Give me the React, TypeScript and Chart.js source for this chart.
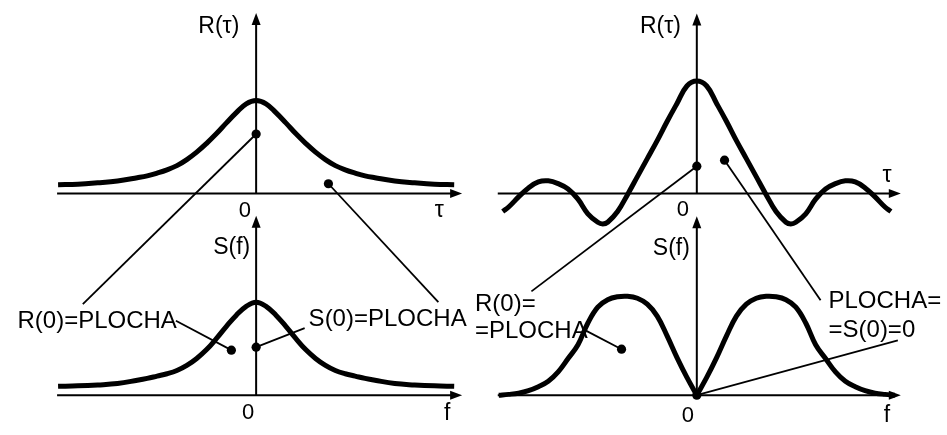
import React, { useEffect, useRef } from 'react';
import { Chart, registerables } from 'chart.js';

Chart.register(...registerables);

const W = 947;
const H = 435;

// ---- data (x in 10-px units, y normalised to peak = 1) ----
const tauLeft = [-20, -18, -16, -14, -12, -11, -10, -9, -8, -7, -6, -5, -4, -3, -2, -1, 0, 1, 2, 3, 4, 5, 6, 7, 8, 9, 10, 11, 12, 14, 16, 18, 20];
const rLeft = [0.095, 0.1, 0.115, 0.135, 0.17, 0.19, 0.22, 0.255, 0.3, 0.365, 0.445, 0.54, 0.645, 0.76, 0.87, 0.965, 1, 0.965, 0.87, 0.76, 0.645, 0.54, 0.445, 0.365, 0.3, 0.255, 0.22, 0.19, 0.17, 0.135, 0.115, 0.1, 0.095];

const freqLeft = [-20, -18, -16, -14, -12, -11, -10, -9, -8, -7, -6, -5, -4, -3, -2, -1, 0, 1, 2, 3, 4, 5, 6, 7, 8, 9, 10, 11, 12, 14, 16, 18, 20];
const sLeft = [0.095, 0.1, 0.11, 0.125, 0.16, 0.18, 0.205, 0.23, 0.265, 0.32, 0.395, 0.49, 0.61, 0.74, 0.86, 0.955, 1, 0.955, 0.86, 0.74, 0.61, 0.49, 0.395, 0.32, 0.265, 0.23, 0.205, 0.18, 0.16, 0.125, 0.11, 0.1, 0.095];

const tauRight = [-19.6, -19, -18, -17, -16, -15, -14, -13, -12, -11, -10, -9.5, -9, -8, -7, -6, -5, -4, -3, -2, -1, 0, 1, 2, 3, 4, 5, 6, 7, 8, 9, 9.5, 10, 11, 12, 13, 14, 15, 16, 17, 18, 19, 19.6];
const rRight = [-0.16, -0.12, -0.03, 0.05, 0.104, 0.113, 0.088, 0.04, -0.05, -0.18, -0.255, -0.27, -0.255, -0.16, -0.01, 0.15, 0.31, 0.47, 0.64, 0.8, 0.955, 1, 0.955, 0.8, 0.64, 0.47, 0.31, 0.15, -0.01, -0.16, -0.255, -0.27, -0.255, -0.18, -0.05, 0.04, 0.088, 0.113, 0.104, 0.05, -0.03, -0.12, -0.16];

const freqRight = [-20, -19, -18, -17, -16, -15, -14, -13, -12, -11, -10, -9, -8, -7, -6, -5, -4, -3, -2, -1, 0, 1, 2, 3, 4, 5, 6, 7, 8, 9, 10, 11, 12, 13, 14, 15, 16, 17, 18, 19, 20];
const sRight = [0, 0.008, 0.02, 0.045, 0.085, 0.14, 0.235, 0.37, 0.51, 0.73, 0.89, 0.965, 0.995, 1, 0.98, 0.92, 0.8, 0.6, 0.38, 0.18, 0, 0.18, 0.38, 0.6, 0.8, 0.92, 0.98, 1, 0.995, 0.965, 0.89, 0.73, 0.51, 0.37, 0.235, 0.14, 0.085, 0.045, 0.02, 0.008, 0];

// annotation dots [x, y] in each panel's units
const dotsTL = [[0, 0.64], [7.3, 0.105]];
const dotsBL = [[-2.5, 0.484], [0, 0.516]];
const dotsTR = [[0, 0.243], [2.8, 0.296]];
const dotsBR = [[-7.6, 0.465], [0, 0]];

// leader lines: [panel, x, y] -> [panel, x, y]
const leaders = [
  [['TL', 0, 0.64], ['BL', -17.5, 0.98]],
  [['TL', 7.3, 0.105], ['BL', 18.4, 1.0]],
  [['BL', -8.1, 0.8], ['BL', -2.5, 0.484]],
  [['BL', 0, 0.516], ['BL', 4.9, 0.72]],
  [['TR', 0, 0.243], ['BR', -16.7, 1.05]],
  [['TR', 2.8, 0.296], ['BR', 12.5, 0.96]],
  [['BR', -11.2, 0.653], ['BR', -7.6, 0.465]],
  [['BR', 0, 0], ['BR', 20.3, 0.554]],
];

// text labels: [panel, x, y, text, align, size]
const labels = [
  ['TL', -1.7, 1.79, 'R(τ)', 'right', 23],
  ['TL', -1.15, -0.185, '0', 'center', 22],
  ['TL', 18.5, -0.18, 'τ', 'center', 23],
  ['BL', -0.6, 1.59, 'S(f)', 'right', 23],
  ['BL', -0.8, -0.19, '0', 'center', 22],
  ['BL', 19.3, -0.2, 'f', 'center', 23],
  ['BL', -24.1, 0.795, 'R(0)=PLOCHA', 'left', 24],
  ['BL', 5.3, 0.816, 'S(0)=PLOCHA', 'left', 24],
  ['TR', -1.6, 1.478, 'R(τ)', 'right', 23],
  ['TR', -1.4, -0.148, '0', 'center', 22],
  ['TR', 19.2, 0.157, 'τ', 'center', 23],
  ['BR', -0.7, 1.485, 'S(f)', 'right', 23],
  ['BR', -0.9, -0.208, '0', 'center', 22],
  ['BR', 19.2, -0.208, 'f', 'center', 23],
  ['BR', -22.4, 0.92, 'R(0)=', 'left', 24],
  ['BR', -22.4, 0.644, '=PLOCHA', 'left', 24],
  ['BR', 13.3, 0.95, 'PLOCHA=', 'left', 24],
  ['BR', 13.3, 0.653, '=S(0)=0', 'left', 24],
];

// axis extents per panel (data units)
const axesDef = [
  { p: 'TL', xFrom: -20.1, xTo: 20.8, yTo: 1.94 },
  { p: 'BL', xFrom: -20.1, xTo: 20.8, yTo: 1.93 },
  { p: 'TR', xFrom: -20.1, xTo: 20.6, yTo: 1.6 },
  { p: 'BR', xFrom: -20.1, xTo: 20.6, yTo: 1.81 },
];

// panel layout (pixel placement of each panel's origin and y scale)
const PANELS: Record<string, { cx: number; y0: number; sy: number }> = {
  TL: { cx: 254, y0: 193, sy: 95 },
  BL: { cx: 254, y0: 399, sy: 95 },
  TR: { cx: 699, y0: 193, sy: 115 },
  BR: { cx: 699, y0: 399, sy: 101 },
};
const SX = 10;
const FONT = '"Liberation Sans", Arial, Helvetica, sans-serif';

const pts = (xs: number[], ys: number[]) => xs.map((x, i) => ({ x, y: ys[i] }));
const dotPts = (d: number[][]) => d.map(([x, y]) => ({ x, y }));

const figurePlugin = {
  id: 'figure',
  beforeDatasetsDraw(chart: any) {
    const ctx = chart.ctx;
    ctx.save();
    ctx.fillStyle = '#000';
    ctx.strokeStyle = '#000';
    ctx.lineWidth = 2;
    for (const a of axesDef) {
      const xs = chart.scales['x' + a.p];
      const ys = chart.scales['y' + a.p];
      const x0 = xs.getPixelForValue(a.xFrom);
      const x1 = xs.getPixelForValue(a.xTo);
      const xc = xs.getPixelForValue(0);
      const yz = ys.getPixelForValue(0);
      const yt = ys.getPixelForValue(a.yTo);
      ctx.beginPath();
      ctx.moveTo(x0, yz);
      ctx.lineTo(x1 - 8, yz);
      ctx.stroke();
      ctx.beginPath();
      ctx.moveTo(x1, yz);
      ctx.lineTo(x1 - 12, yz - 4.5);
      ctx.lineTo(x1 - 12, yz + 4.5);
      ctx.closePath();
      ctx.fill();
      ctx.beginPath();
      ctx.moveTo(xc, yz);
      ctx.lineTo(xc, yt + 8);
      ctx.stroke();
      ctx.beginPath();
      ctx.moveTo(xc, yt);
      ctx.lineTo(xc - 4.5, yt + 12);
      ctx.lineTo(xc + 4.5, yt + 12);
      ctx.closePath();
      ctx.fill();
    }
    ctx.restore();
  },
  afterDatasetsDraw(chart: any) {
    const ctx = chart.ctx;
    const px = (p: string, x: number) => chart.scales['x' + p].getPixelForValue(x);
    const py = (p: string, y: number) => chart.scales['y' + p].getPixelForValue(y);
    ctx.save();
    ctx.strokeStyle = '#000';
    ctx.lineWidth = 1.8;
    for (const [a, b] of leaders as any[]) {
      ctx.beginPath();
      ctx.moveTo(px(a[0], a[1]), py(a[0], a[2]));
      ctx.lineTo(px(b[0], b[1]), py(b[0], b[2]));
      ctx.stroke();
    }
    ctx.fillStyle = '#000';
    ctx.textBaseline = 'middle';
    for (const [p, x, y, t, align, size] of labels as any[]) {
      ctx.font = `${size}px ${FONT}`;
      ctx.textAlign = align;
      ctx.fillText(t, px(p, x), py(p, y));
    }
    ctx.restore();
  },
};

function buildConfig(): any {
  const scales: any = { x: { display: false }, y: { display: false } };
  for (const k of Object.keys(PANELS)) {
    const p = PANELS[k];
    scales['x' + k] = { type: 'linear', axis: 'x', display: false, min: -p.cx / SX, max: (W - p.cx) / SX };
    scales['y' + k] = { type: 'linear', axis: 'y', display: false, min: -(H - p.y0) / p.sy, max: p.y0 / p.sy };
  }
  const curve = (data: any, k: string) => ({
    data,
    xAxisID: 'x' + k,
    yAxisID: 'y' + k,
    showLine: true,
    borderColor: '#000',
    borderWidth: 5,
    pointRadius: 0,
    tension: 0.4,
    borderJoinStyle: 'round',
    borderCapStyle: 'butt',
    clip: false,
  });
  const dots = (data: any, k: string) => ({
    data,
    xAxisID: 'x' + k,
    yAxisID: 'y' + k,
    showLine: false,
    pointRadius: 4.6,
    pointBackgroundColor: '#000',
    pointBorderWidth: 0,
    borderColor: '#000',
    clip: false,
  });
  const brAll = pts(freqRight, sRight);
  return {
    type: 'scatter',
    data: {
      datasets: [
        curve(pts(tauLeft, rLeft), 'TL'),
        curve(pts(freqLeft, sLeft), 'BL'),
        curve(pts(tauRight, rRight), 'TR'),
        curve(brAll.filter((d) => d.x <= 0), 'BR'),
        curve(brAll.filter((d) => d.x >= 0), 'BR'),
        dots(dotPts(dotsTL), 'TL'),
        dots(dotPts(dotsBL), 'BL'),
        dots(dotPts(dotsTR), 'TR'),
        dots(dotPts(dotsBR), 'BR'),
      ],
    },
    options: {
      animation: false,
      responsive: false,
      maintainAspectRatio: false,
      devicePixelRatio: 1,
      events: [],
      layout: { padding: 0 },
      plugins: { legend: { display: false }, tooltip: { enabled: false }, title: { display: false } },
      scales,
    },
    plugins: [figurePlugin],
  };
}

export default function App() {
  const ref = useRef<HTMLCanvasElement>(null);
  useEffect(() => {
    const chart = new Chart(ref.current as HTMLCanvasElement, buildConfig());
    return () => chart.destroy();
  }, []);
  return (
    <div style={{ position: 'absolute', left: 0, top: 0, width: W, height: H, background: '#fff' }}>
      <canvas ref={ref} width={W} height={H} style={{ display: 'block', width: W, height: H }} />
    </div>
  );
}
